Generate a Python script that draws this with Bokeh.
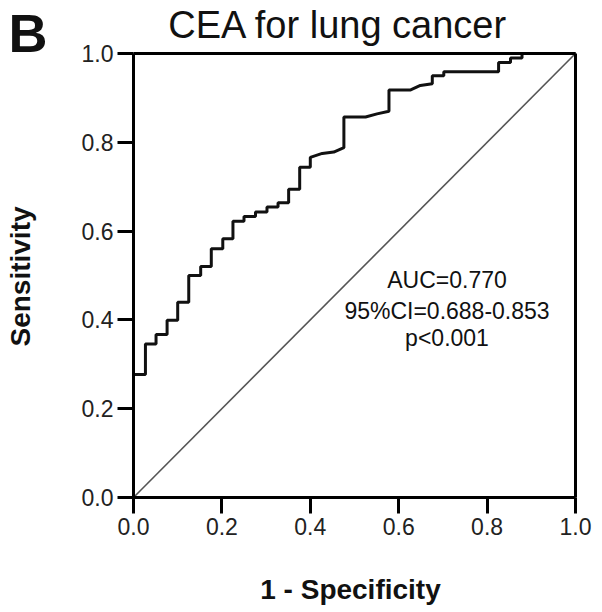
import math
from bokeh.plotting import figure
from bokeh.models import Range1d, FixedTicker, Label, LinearAxis, CustomJSTickFormatter
from bokeh.embed import file_html
from bokeh.resources import INLINE

# ROC curve vertices (1 - specificity, sensitivity)
fpr = [0.0, 0.0, 0.027, 0.027, 0.051, 0.051, 0.076, 0.076, 0.100, 0.100,
       0.125, 0.125, 0.152, 0.152, 0.176, 0.176, 0.202, 0.202, 0.225, 0.225,
       0.250, 0.250, 0.276, 0.276, 0.302, 0.302, 0.327, 0.327, 0.351, 0.351,
       0.376, 0.376, 0.400, 0.400, 0.427, 0.453, 0.476, 0.476, 0.525, 0.551,
       0.578, 0.578, 0.627, 0.649, 0.676, 0.676, 0.702, 0.702, 0.826, 0.826,
       0.853, 0.853, 0.879, 0.879, 1.0]
tpr = [0.0, 0.277, 0.277, 0.346, 0.346, 0.367, 0.367, 0.399, 0.399, 0.440,
       0.440, 0.500, 0.500, 0.520, 0.520, 0.560, 0.560, 0.583, 0.583, 0.622,
       0.622, 0.633, 0.633, 0.643, 0.643, 0.654, 0.654, 0.664, 0.664, 0.694,
       0.694, 0.744, 0.744, 0.766, 0.775, 0.778, 0.788, 0.857, 0.857, 0.864,
       0.870, 0.918, 0.918, 0.928, 0.932, 0.950, 0.950, 0.959, 0.959, 0.980,
       0.980, 0.990, 0.990, 1.0, 1.0]

ref_x = [0.0, 1.0]
ref_y = [0.0, 1.0]

ticks = [0.0, 0.2, 0.4, 0.6, 0.8, 1.0]

title_text = "CEA  for lung cancer"
panel_letter = "B"
x_label = "1 - Specificity"
y_label = "Sensitivity"
stats = ["AUC=0.770", "95%CI=0.688-0.853", "p<0.001"]

FONT = "Liberation Sans"

# canvas geometry (pixels): the unit square occupies x 133..575, y 53..497
W, H = 600, 610
X0, X1, Y0, Y1 = 133.0, 575.0, 497.0, 53.0
sx = X1 - X0
sy = Y0 - Y1
x_range = Range1d(-X0 / sx, (W - X0) / sx)
y_range = Range1d((Y0 - H) / sy, Y0 / sy)

p = figure(width=W, height=H, output_backend="svg", toolbar_location=None,
           x_range=x_range, y_range=y_range, min_border=0,
           min_border_left=0, min_border_right=0,
           min_border_top=0, min_border_bottom=0)
p.title.visible = False
p.grid.visible = False
p.background_fill_color = "white"
p.border_fill_color = "white"
p.outline_line_color = None

fmt = CustomJSTickFormatter(code="return tick.toFixed(1);")
for ax in (p.xaxis[0], p.yaxis[0]):
    ax.fixed_location = 0
    ax.bounds = (0, 1)
    ax.ticker = FixedTicker(ticks=ticks)
    ax.formatter = fmt
    ax.axis_line_width = 3
    ax.axis_line_color = "black"
    ax.major_tick_line_width = 3
    ax.major_tick_line_color = "black"
    ax.major_tick_out = 16
    ax.major_tick_in = 0
    ax.minor_tick_line_color = None
    ax.major_label_text_font = FONT
    ax.major_label_text_font_size = "23px"
    ax.major_label_text_color = "#222222"
    ax.major_label_standoff = 4

# top and right edges of the box
for side in ("above", "right"):
    edge = LinearAxis(fixed_location=1, bounds=(0, 1),
                      ticker=FixedTicker(ticks=[]),
                      axis_line_width=3, axis_line_color="black",
                      major_tick_line_color=None, minor_tick_line_color=None,
                      major_label_text_font_size="0px")
    p.add_layout(edge, side)

p.line(ref_x, ref_y, line_color="#555555", line_width=1.6)
p.line(fpr, tpr, line_color="#111111", line_width=3)


def px_x(px):
    return (px - X0) / sx


def px_y(py):
    return (Y0 - py) / sy


p.add_layout(Label(x=px_x(8), y=px_y(32), text=panel_letter, text_font=FONT,
                   text_font_size="54px", text_font_style="bold",
                   text_align="left", text_baseline="alphabetic",
                   text_color="#111111"))
p.add_layout(Label(x=px_x(343), y=px_y(24), text=title_text, text_font=FONT,
                   text_font_size="38px", text_align="center",
                   text_baseline="alphabetic", text_color="#111111"))
p.add_layout(Label(x=px_x(350), y=px_y(589), text=x_label, text_font=FONT,
                   text_font_size="28px", text_font_style="bold",
                   text_align="center", text_baseline="middle",
                   text_color="#111111"))
p.add_layout(Label(x=px_x(20), y=px_y(276), text=y_label, text_font=FONT,
                   text_font_size="28px", text_font_style="bold",
                   text_align="center", text_baseline="middle",
                   angle=math.pi / 2, text_color="#111111"))
for txt, py in zip(stats, [279.7, 310.0, 337.5]):
    p.add_layout(Label(x=px_x(446.5), y=px_y(py), text=txt, text_font=FONT,
                       text_font_size="23px", text_align="center",
                       text_baseline="alphabetic", text_color="#111111"))

open("out.html", "w").write(file_html(p, INLINE))
